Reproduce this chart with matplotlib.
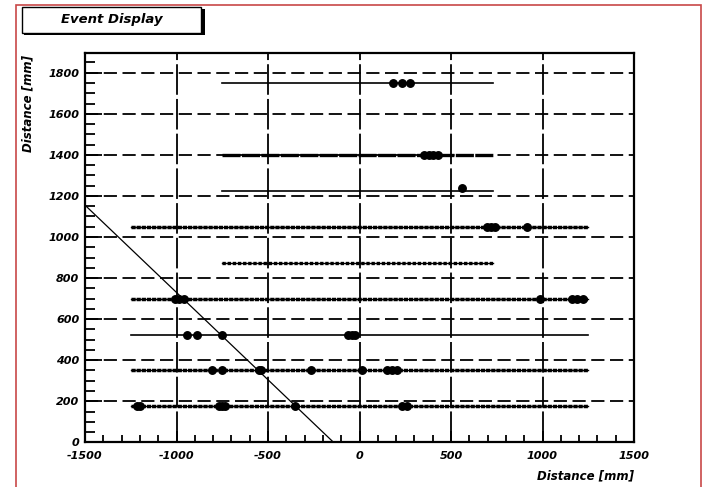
"""
event_display.py
Re-draws a ROOT style event display: detector layers, hits and a fitted track.
"""

import matplotlib
matplotlib.use("Agg")
import matplotlib.pyplot as plt
from matplotlib.patches import Rectangle
from matplotlib.ticker import MultipleLocator

# ---------------------------------------------------------------------
# Data
# ---------------------------------------------------------------------
layer_y = [1750, 1400, 1225, 1050, 875, 700, 525, 350, 175]
layer_x0 = [-750, -750, -750, -1250, -750, -1250, -1250, -1250, -1250]
layer_x1 = [730, 730, 730, 1250, 730, 1250, 1250, 1250, 1250]
layer_kind = ["thin", "thick", "thin", "dotted", "dots", "dotted", "thin", "dotted", "dotted"]

hit_x = [185, 230, 275,
         352, 378, 403, 429,
         560,
         695, 718, 740, 913,
         -1010, -985, -960, 989, 1162, 1190, 1220,
         -943, -888, -750, -62, -42, -22,
         -805, -750, -548, -538, -264, 15, 150, 175, 204,
         -1215, -1200, -767, -750, -736, -350, 233, 259]
hit_y = [1750, 1750, 1750,
         1400, 1400, 1400, 1400,
         1240,
         1050, 1050, 1050, 1050,
         700, 700, 700, 700, 700, 700, 700,
         525, 525, 525, 525, 525, 525,
         350, 350, 350, 350, 350, 350, 350, 350, 350,
         175, 175, 175, 175, 175, 175, 175, 175]

track_x = [-1500, -142]
track_y = [1155, 0]

x_ticks = [-1500, -1000, -500, 0, 500, 1000, 1500]
y_ticks = [0, 200, 400, 600, 800, 1000, 1200, 1400, 1600, 1800]

# ---------------------------------------------------------------------
# Figure
# ---------------------------------------------------------------------
plt.rcParams["lines.scale_dashes"] = False
plt.rcParams["axes.unicode_minus"] = False
plt.rcParams["font.family"] = ["DejaVu Sans"]

fig = plt.figure(figsize=(7.02, 4.87), dpi=100)
ax = fig.add_axes([85 / 702, 44.7 / 487, 549 / 702, 389.3 / 487])

ax.set_xlim(-1500, 1500)
ax.set_ylim(0, 1896)

# grid (dashed, ROOT style)
for yv in y_ticks[1:]:
    ax.axhline(yv, color="black", lw=1.3, ls=(0, (9.5, 4.0)), zorder=1)
for xv in x_ticks[1:-1]:
    ax.axvline(xv, color="black", lw=1.3, ls=(0, (22, 3)), zorder=1)

# detector layers
for y, x0, x1, kind in zip(layer_y, layer_x0, layer_x1, layer_kind):
    if kind == "thin":
        ax.plot([x0, x1], [y, y], color="black", lw=1.2, zorder=2)
    elif kind == "thick":
        ax.plot([x0, x1], [y, y], color="black", lw=2.4, ls=(0, (13, 1.0)),
                solid_capstyle="butt", zorder=2)
    elif kind == "dotted":
        ax.plot([x0, x1], [y, y], color="black", lw=1.0, zorder=2)
        ax.plot([x0, x1], [y, y], color="black", lw=2.5, ls=(0, (3.0, 0.7)),
                solid_capstyle="butt", zorder=2)
    else:
        ax.plot([x0, x1], [y, y], color="black", lw=1.0, zorder=2)
        ax.plot([x0, x1], [y, y], color="black", lw=2.4, ls=(0, (2.4, 1.3)),
                zorder=2)

# hits
ax.plot(hit_x, hit_y, "o", color="black", ms=5.4, zorder=3)

# fitted track
ax.plot(track_x, track_y, color="black", lw=0.9, zorder=4, clip_on=True)

# axes frame and ticks
for side in ["left", "right", "top", "bottom"]:
    ax.spines[side].set_linewidth(1.6)
ax.set_xticks(x_ticks)
ax.set_yticks(y_ticks)
ax.xaxis.set_minor_locator(MultipleLocator(100))
ax.yaxis.set_minor_locator(MultipleLocator(50))
ax.tick_params(which="both", direction="in", top=False, right=False, width=1.3)
ax.tick_params(axis="x", which="major", length=8, pad=6)
ax.tick_params(axis="x", which="minor", length=5)
ax.tick_params(axis="y", which="major", length=12, pad=4)
ax.tick_params(axis="y", which="minor", length=7)
for lab in ax.get_xticklabels() + ax.get_yticklabels():
    lab.set_fontstyle("italic")
    lab.set_fontweight("bold")
    lab.set_fontsize(8)

fig.text(634 / 702, 1 - 476 / 487, "Distance [mm]", ha="right", va="center",
         fontsize=8.5, style="italic", fontweight="bold")
fig.text(28 / 702, 1 - 55 / 487, "Distance [mm]", ha="center", va="top",
         rotation=90, fontsize=8.5, style="italic", fontweight="bold")

# title box with shadow
fig.patches.append(Rectangle((24 / 702, 1 - 35 / 487), 181 / 702, 26 / 487,
                             transform=fig.transFigure, facecolor="black",
                             edgecolor="none", zorder=5))
fig.patches.append(Rectangle((22 / 702, 1 - 33 / 487), 179 / 702, 26 / 487,
                             transform=fig.transFigure, facecolor="white",
                             edgecolor="black", lw=1.0, zorder=6))
fig.text(112 / 702, 1 - 20 / 487, "Event Display", ha="center", va="center",
         fontsize=9.5, style="italic", fontweight="bold", zorder=7)

# outer red canvas border
fig.patches.append(Rectangle((16 / 702, -0.02), 684.5 / 702, 1.02 - 5 / 487,
                             transform=fig.transFigure, facecolor="none",
                             edgecolor="#c84848", lw=1.2, zorder=8))

fig.savefig("out.png", dpi=100)
